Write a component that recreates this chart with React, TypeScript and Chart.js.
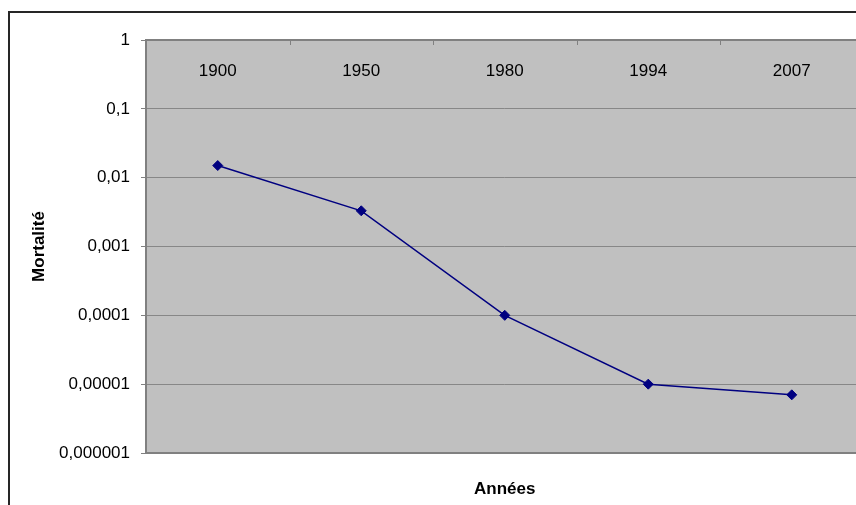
import React, { useEffect, useRef } from 'react';
import { Chart, registerables } from 'chart.js';

Chart.register(...registerables);

const categories = ['1900', '1950', '1980', '1994', '2007'];
const mortality = [0.015, 0.0033, 0.0001, 0.00001, 0.000007];
const yTickValues = [1, 0.1, 0.01, 0.001, 0.0001, 0.00001, 0.000001];
const yTickLabels = ['1', '0,1', '0,01', '0,001', '0,0001', '0,00001', '0,000001'];
const yTitle = 'Mortalité';
const xTitle = 'Années';

const FONT = "'Liberation Sans', Arial, sans-serif";

const plotPlugin = {
  id: 'plotDecor',
  beforeDraw(chart: any) {
    const { ctx, chartArea } = chart;
    const { left, top, right, bottom } = chartArea;
    ctx.save();
    ctx.fillStyle = '#c0c0c0';
    ctx.fillRect(left, top, right - left, bottom - top);
    ctx.restore();
  },
  beforeDatasetsDraw(chart: any) {
    const { ctx, chartArea } = chart;
    const { left, top, right, bottom } = chartArea;
    const xs = chart.scales.x;
    ctx.save();
    ctx.strokeStyle = '#808080';
    ctx.lineWidth = 2;
    ctx.strokeRect(left, top, right - left, bottom - top);
    // category boundary tick marks pointing inward, and labels inside the plot
    const n = categories.length;
    const step = n > 1 ? xs.getPixelForValue(1) - xs.getPixelForValue(0) : right - left;
    ctx.lineWidth = 1;
    ctx.beginPath();
    for (let i = 0; i <= n; i++) {
      const px = Math.round(xs.getPixelForValue(0) - step / 2 + i * step) + 0.5;
      ctx.moveTo(px, top);
      ctx.lineTo(px, top + 5);
    }
    ctx.stroke();
    ctx.fillStyle = '#000';
    ctx.font = `17px ${FONT}`;
    ctx.textAlign = 'center';
    ctx.textBaseline = 'middle';
    categories.forEach((c, i) => {
      ctx.fillText(c, xs.getPixelForValue(i), top + 31);
    });
    ctx.restore();
  },
  afterDraw(chart: any) {
    const { ctx } = chart;
    ctx.save();
    ctx.strokeStyle = '#262626';
    ctx.lineWidth = 2;
    ctx.strokeRect(9, 12, 3000, 3000);
    ctx.restore();
  },
};

export default function App() {
  const ref = useRef<HTMLCanvasElement | null>(null);

  useEffect(() => {
    if (!ref.current) return;
    const chart = new Chart(ref.current, {
      type: 'line',
      data: {
        labels: categories,
        datasets: [
          {
            data: mortality,
            borderColor: '#000080',
            backgroundColor: '#000080',
            borderWidth: 1.5,
            pointStyle: 'rectRot',
            pointRadius: 5,
            pointBorderWidth: 1,
            pointBackgroundColor: '#000080',
            pointBorderColor: '#000080',
            tension: 0,
            xAxisID: 'x',
            yAxisID: 'y',
          },
        ],
      },
      options: {
        responsive: false,
        animation: false,
        devicePixelRatio: 1,
        layout: { padding: { left: 0, top: 0, right: 36.5, bottom: 0 } },
        plugins: {
          legend: { display: false },
          tooltip: { enabled: false },
        },
        scales: {
          x: {
            type: 'category',
            position: 'top',
            offset: true,
            grid: { display: false },
            border: { display: false },
            ticks: { display: false },
            afterFit: (s: any) => {
              s.height = 40;
            },
          },
          x2: {
            type: 'category',
            position: 'bottom',
            grid: { display: false },
            border: { display: false },
            ticks: { display: false },
            title: {
              display: true,
              text: xTitle,
              color: '#000',
              font: { family: FONT, size: 17, weight: 'bold' },
              padding: { top: 0, bottom: 5.8 },
            },
            afterFit: (s: any) => {
              s.height = 52;
            },
          },
          y: {
            type: 'logarithmic',
            position: 'left',
            min: 0.000001,
            max: 1,
            afterBuildTicks: (s: any) => {
              s.ticks = yTickValues.map((v) => ({ value: v }));
            },
            grid: {
              color: '#878787',
              lineWidth: 1,
              drawTicks: true,
              tickLength: 5,
              tickColor: '#808080',
            },
            border: { display: false },
            ticks: {
              color: '#000',
              font: { family: FONT, size: 17 },
              padding: 11,
              autoSkip: false,
              callback: (value: any) => {
                const i = yTickValues.findIndex(
                  (t) => Math.abs(Math.log10(t) - Math.log10(Number(value))) < 1e-6
                );
                return i >= 0 ? yTickLabels[i] : '';
              },
            },
            title: {
              display: true,
              text: yTitle,
              color: '#000',
              font: { family: FONT, size: 17, weight: 'bold' },
              padding: { top: 29, bottom: 0 },
            },
            afterFit: (s: any) => {
              s.width = 146;
            },
          },
        },
      },
      plugins: [plotPlugin],
    } as any);
    return () => chart.destroy();
  }, []);

  return (
    <div
      style={{
        position: 'fixed',
        left: 0,
        top: 0,
        width: 856,
        height: 505,
        overflow: 'hidden',
        background: '#fff',
      }}
    >
      <canvas
        ref={ref}
        width={900}
        height={505}
        style={{ position: 'absolute', left: 0, top: 0, display: 'block' }}
      />
    </div>
  );
}
